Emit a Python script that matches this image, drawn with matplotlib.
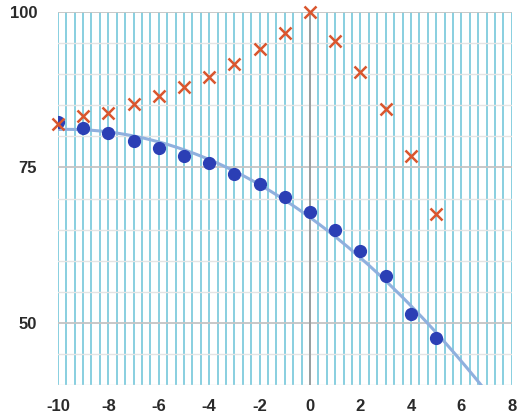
import numpy as np
import matplotlib.pyplot as plt
from matplotlib.ticker import MultipleLocator

plt.rcParams['axes.unicode_minus'] = False
plt.rcParams['font.family'] = ['Liberation Sans', 'DejaVu Sans']

# data
x_vals = [-10, -9, -8, -7, -6, -5, -4, -3, -2, -1, 0, 1, 2, 3, 4, 5]
red_y = [82.0, 83.3, 83.8, 85.2, 86.5, 87.9, 89.6, 91.6, 94.0, 96.7, 100.0,
         95.4, 90.4, 84.4, 76.8, 67.5]
blue_y = [82.3, 81.4, 80.6, 79.3, 78.2, 76.9, 75.8, 74.0, 72.3, 70.2, 67.8,
          65.0, 61.6, 57.6, 51.4, 47.5]
x_ticks = [-10, -8, -6, -4, -2, 0, 2, 4, 6, 8]
y_ticks = [50, 75, 100]

fig = plt.figure(figsize=(5.26, 4.15), dpi=100)
ax = fig.add_axes([0.110, 0.072, 0.863, 0.899])

ax.set_xlim(-10, 8)
ax.set_ylim(40, 100)

# grid: cyan verticals every 1/3, grey horizontals every 5
ax.xaxis.set_minor_locator(MultipleLocator(1 / 3))
ax.yaxis.set_minor_locator(MultipleLocator(5))
ax.set_xticks(x_ticks)
ax.set_yticks(y_ticks)
ax.grid(which='minor', axis='x', color='#74c7da', lw=1.2)
ax.grid(which='major', axis='x', color='#74c7da', lw=1.2)
ax.grid(which='minor', axis='y', color='#e4e4e4', lw=1.0)
ax.grid(which='major', axis='y', color='#c4c4c4', lw=1.3)
ax.axvline(0, color='#9a9a9a', lw=1.3, zorder=1.5)
ax.set_axisbelow(True)

for s in ax.spines.values():
    s.set_visible(False)
ax.tick_params(which='both', length=0)
ax.tick_params(axis='x', pad=10)
ax.tick_params(axis='y', pad=15)
for lab in ax.get_xticklabels() + ax.get_yticklabels():
    lab.set_fontweight('bold')
    lab.set_fontsize(12)
    lab.set_color('#2a2a2a')

# quadratic trend through the blue points
coef = np.polyfit(x_vals, blue_y, 2)
xs = np.linspace(-10, 6.8, 200)
ys = np.polyval(coef, xs)
ax.plot(xs, ys, color='#8fb0de', lw=2.2, zorder=2)

ax.plot(x_vals, blue_y, 'o', color='#2b3fb5', ms=8.5, zorder=3)
ax.plot(x_vals, red_y, 'x', color='#d9562e', ms=8, mew=1.8, zorder=4,
        clip_on=False)

fig.savefig('out.png', dpi=100)
